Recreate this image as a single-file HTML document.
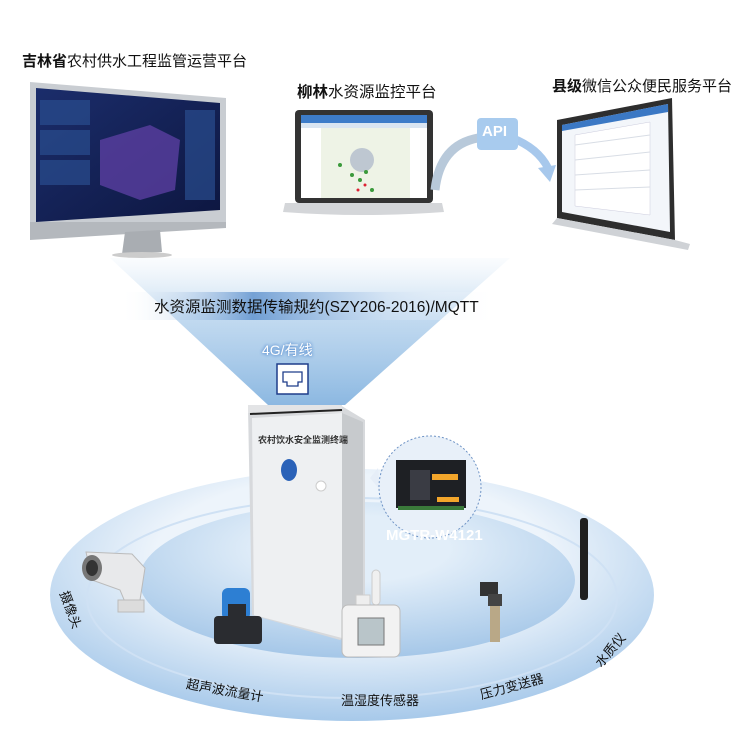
<!DOCTYPE html>
<html><head><meta charset="utf-8"><style>
html,body{margin:0;padding:0;background:#fff;}
body{width:750px;height:743px;position:relative;overflow:hidden;font-family:"Liberation Sans","Noto Sans CJK SC",sans-serif;}
.t{position:absolute;white-space:nowrap;color:#111;}
.a{position:absolute;}
</style></head><body>
<svg class="a" style="left:0;top:0" width="750" height="743">
<defs>
<linearGradient id="beam" x1="0" y1="0" x2="0" y2="1">
<stop offset="0" stop-color="#cfe2f3" stop-opacity="0.1"/>
<stop offset="0.4" stop-color="#a9cbea" stop-opacity="0.7"/>
<stop offset="1" stop-color="#7fb0de" stop-opacity="0.9"/>
</linearGradient>
<radialGradient id="outer" cx="0.5" cy="0.35" r="0.65">
<stop offset="0.5" stop-color="#edf4fb"/>
<stop offset="1" stop-color="#a7c9ea"/>
</radialGradient>
<radialGradient id="inner" cx="0.5" cy="0.3" r="0.7">
<stop offset="0.3" stop-color="#e2eef9"/>
<stop offset="1" stop-color="#a5c7e8"/>
</radialGradient>
<linearGradient id="band" x1="0" y1="0" x2="1" y2="0">
<stop offset="0" stop-color="#fff" stop-opacity="0"/>
<stop offset="0.35" stop-color="#5b8fcc" stop-opacity="0.8"/>
<stop offset="0.7" stop-color="#cfe0f3" stop-opacity="0.6"/>
<stop offset="1" stop-color="#fff" stop-opacity="0"/>
</linearGradient>
<linearGradient id="scr" x1="0" y1="0" x2="1" y2="1">
<stop offset="0" stop-color="#1b2d6b"/><stop offset="1" stop-color="#0d1640"/>
</linearGradient>
</defs>
<ellipse cx="352" cy="595" rx="302" ry="126" fill="url(#outer)"/>
<ellipse cx="352" cy="598" rx="265" ry="100" fill="none" stroke="#cfe1f4" stroke-width="2"/>
<ellipse cx="357" cy="580" rx="218" ry="78" fill="url(#inner)"/>
<polygon points="110,258 510,258 345,405 268,405" fill="url(#beam)"/>
<rect x="120" y="292" width="380" height="28" fill="url(#band)"/>
<path d="M30,82 L226,98 L226,222 L30,236 Z" fill="#c9cdd2"/>
<path d="M36,88 L220,103 L220,210 L36,222 Z" fill="url(#scr)"/>
<path d="M100,140 L150,125 L180,140 L175,190 L140,200 L100,185 Z" fill="#5a3fa0" opacity="0.8"/>
<rect x="40" y="100" width="50" height="25" fill="#2a4d8f" opacity=".7"/>
<rect x="40" y="130" width="50" height="25" fill="#2a4d8f" opacity=".7"/>
<rect x="40" y="160" width="50" height="25" fill="#2a4d8f" opacity=".7"/>
<rect x="185" y="110" width="30" height="90" fill="#2a4d8f" opacity=".7"/>
<path d="M30,222 L226,222 L226,228 L30,240 Z" fill="#b4b8bd"/>
<path d="M125,232 L160,230 L162,252 L122,254 Z" fill="#a9adb2"/>
<ellipse cx="142" cy="255" rx="30" ry="3" fill="#ccc"/>
<rect x="295" y="110" width="138" height="93" rx="4" fill="#333"/>
<rect x="301" y="115" width="126" height="83" fill="#eef3e6"/>
<rect x="301" y="115" width="126" height="8" fill="#3d7cc9"/>
<rect x="301" y="123" width="126" height="5" fill="#d9e5f2"/>
<rect x="301" y="128" width="20" height="70" fill="#fff"/>
<rect x="410" y="128" width="17" height="70" fill="#fff"/>
<circle cx="362" cy="160" r="12" fill="#aab3c8" opacity=".7"/>
<g fill="#3b9a3b"><circle cx="352" cy="175" r="2"/><circle cx="360" cy="180" r="2"/><circle cx="366" cy="172" r="2"/><circle cx="340" cy="165" r="2"/><circle cx="372" cy="190" r="2"/></g>
<g fill="#d23"><circle cx="365" cy="185" r="1.5"/><circle cx="358" cy="190" r="1.5"/></g>
<path d="M285,203 L442,203 L444,212 Q363,218 283,212 Z" fill="#d4d6d9"/>
<path d="M435,190 Q440,145 478,138" stroke="#b8c9da" stroke-width="9" fill="none"/>
<path d="M512,138 Q538,148 548,168" stroke="#a7c8ec" stroke-width="8" fill="none"/>
<polygon points="538,168 556,165 550,182" fill="#a7c8ec"/>
<rect x="477" y="118" width="41" height="32" rx="4" fill="#a8cbee"/>
<path d="M557,120 L672,98 L675,240 L557,218 Z" fill="#2e2e2e"/>
<path d="M562,125 L668,104 L670,232 L562,212 Z" fill="#f3f6fa"/>
<path d="M562,125 L668,104 L668,112 L562,131 Z" fill="#3b78c4"/>
<path d="M575,135 L650,122 L650,215 L575,206 Z" fill="#fff" stroke="#ccd" stroke-width=".5"/>
<g stroke="#d8dde5" stroke-width="1"><line x1="575" y1="145" x2="650" y2="135"/><line x1="575" y1="160" x2="650" y2="152"/><line x1="575" y1="175" x2="650" y2="170"/><line x1="575" y1="190" x2="650" y2="187"/></g>
<path d="M557,218 L675,240 L690,244 L688,250 L552,224 Z" fill="#cfd2d6"/>
<rect x="277" y="364" width="31" height="30" fill="#fff" stroke="#1f3d8a" stroke-width="1.5"/>
<path d="M283,372 L302,372 L302,382 L298,382 L298,386 L287,386 L287,382 L283,382 Z" fill="none" stroke="#1f3d8a" stroke-width="1.3"/>
<path d="M248,408 L340,405 L365,420 L365,625 L340,640 L252,615 Z" fill="#d7d9dc"/>
<path d="M252,418 L342,413 L342,638 L254,615 Z" fill="#eef0f2"/>
<path d="M342,413 L363,422 L363,624 L342,638 Z" fill="#c7cacd"/>
<rect x="248" y="405" width="94" height="8" fill="#e3e4e6"/>
<line x1="250" y1="414" x2="342" y2="410" stroke="#222" stroke-width="2"/>
<ellipse cx="289" cy="470" rx="8" ry="11" fill="#2a62b8"/>
<circle cx="321" cy="486" r="5" fill="#fff" stroke="#ccc"/>
<path d="M370,478 L378,468 L380,490 Z" fill="#e6eef8"/>
<circle cx="430" cy="487" r="51" fill="#e8f0f9" stroke="#6e93c5" stroke-dasharray="2,2"/>
<rect x="396" y="460" width="70" height="48" fill="#1e2024"/>
<rect x="410" y="470" width="20" height="30" fill="#3a3c44"/>
<rect x="432" y="474" width="26" height="6" fill="#f3a62b"/>
<rect x="437" y="497" width="22" height="5" fill="#f3a62b"/>
<rect x="398" y="506" width="66" height="4" fill="#3a7a3a"/>
<path d="M86,552 L132,554 L145,568 L140,600 L125,602 L120,590 L92,580 Z" fill="#e8e9eb" stroke="#bbb"/>
<ellipse cx="92" cy="568" rx="10" ry="13" fill="#777"/>
<ellipse cx="92" cy="568" rx="6" ry="8" fill="#333"/>
<rect x="118" y="600" width="26" height="12" fill="#dcdcdc" stroke="#bbb"/>
<rect x="222" y="588" width="28" height="32" rx="6" fill="#2d7fd3"/>
<rect x="214" y="616" width="48" height="28" rx="4" fill="#2a2c30"/>
<rect x="228" y="604" width="18" height="30" fill="#2a2c30"/>
<rect x="372" y="570" width="8" height="35" rx="4" fill="#f0f0f0" stroke="#ccc"/>
<rect x="356" y="595" width="14" height="12" fill="#eee" stroke="#ccc"/>
<rect x="342" y="605" width="58" height="52" rx="6" fill="#f2f2f2" stroke="#bbb"/>
<rect x="358" y="618" width="26" height="27" fill="#b9c5c9" stroke="#777"/>
<rect x="480" y="582" width="18" height="14" fill="#333"/>
<rect x="488" y="594" width="14" height="12" fill="#444"/>
<rect x="490" y="606" width="10" height="36" fill="#b9a887"/>
<rect x="580" y="518" width="8" height="82" rx="3" fill="#1f1f1f"/>
</svg>
<div class="t" style="left:22px;top:50px;font-size:15px;"><b>吉林省</b>农村供水工程监管运营平台</div>
<div class="t" style="left:297px;top:80px;font-size:15.5px;"><b>柳林</b>水资源监控平台</div>
<div class="t" style="left:552px;top:75px;font-size:15px;"><b>县级</b>微信公众便民服务平台</div>
<div class="t" style="left:482px;top:123px;font-size:15px;color:#fff;font-weight:bold;">API</div>
<div class="t" style="left:154px;top:295px;font-size:15.5px;">水资源监测数据传输规约(SZY206-2016)/MQTT</div>
<div class="t" style="left:262px;top:340px;font-size:14px;color:#fff;text-shadow:0 0 3px #5a8fd0,0 0 3px #5a8fd0;">4G/有线</div>
<div class="t" style="left:258px;top:433px;font-size:9px;font-weight:bold;color:#333;">农村饮水安全监测终端</div>
<div class="t" style="left:386px;top:527px;font-size:15px;color:#fff;font-weight:bold;">MGTR-W4121</div>
<div class="t" style="left:52px;top:600px;font-size:13px;transform:rotate(70deg);">摄像头</div>
<div class="t" style="left:186px;top:680px;font-size:13px;transform:rotate(10deg);">超声波流量计</div>
<div class="t" style="left:341px;top:690px;font-size:13px;">温湿度传感器</div>
<div class="t" style="left:479px;top:676px;font-size:13px;transform:rotate(-15deg);">压力变送器</div>
<div class="t" style="left:590px;top:640px;font-size:13px;transform:rotate(-50deg);">水质仪</div>
</body></html>
